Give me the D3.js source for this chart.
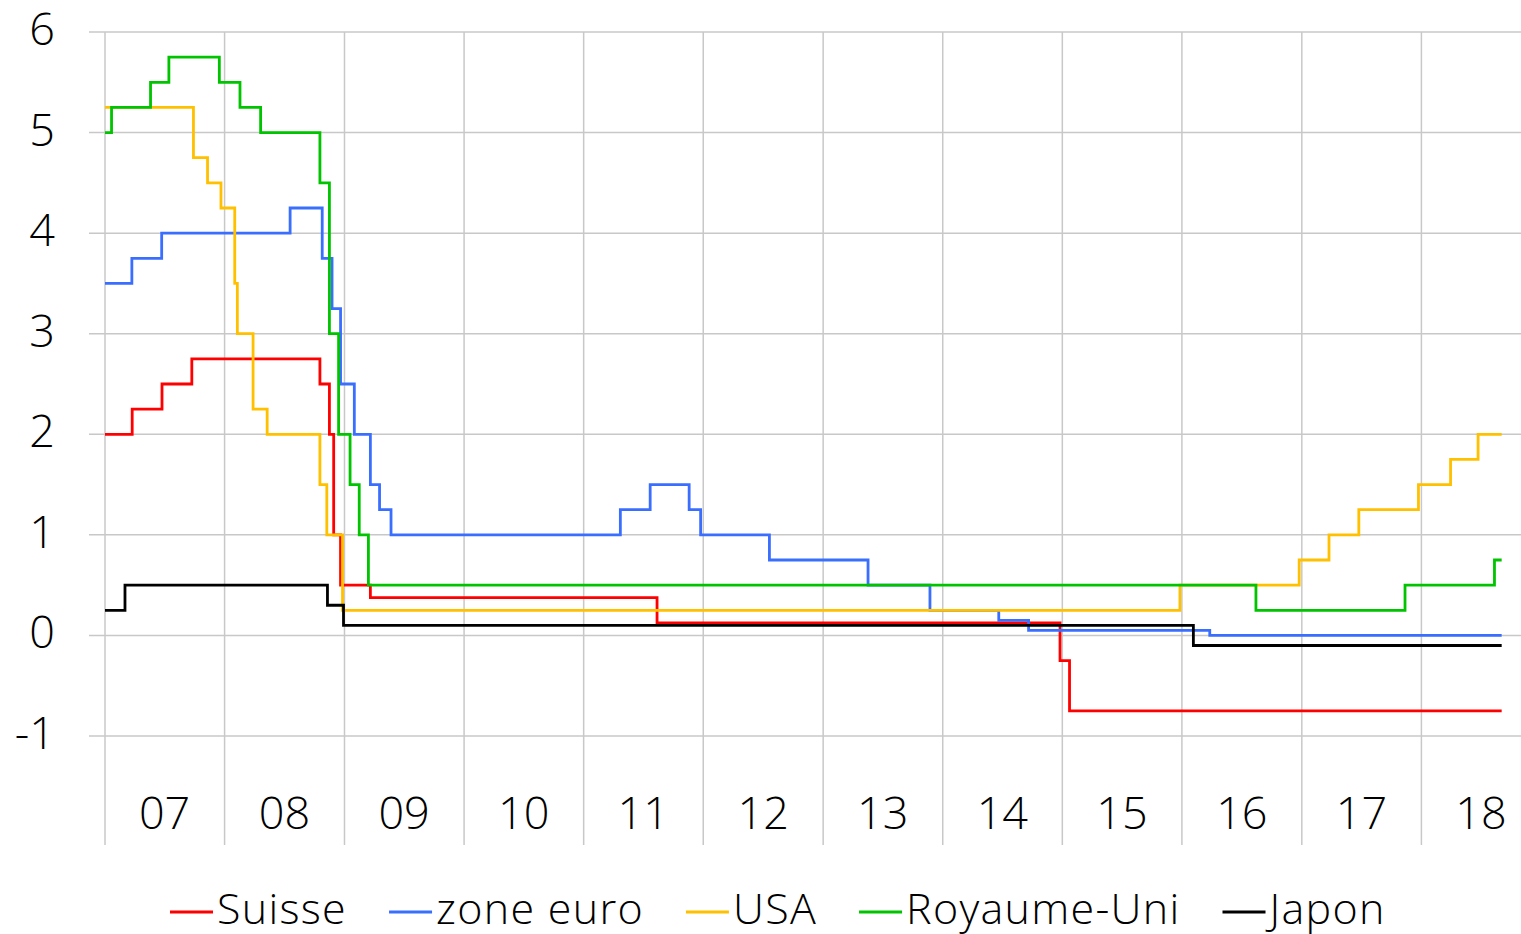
<!DOCTYPE html>
<html>
<head>
<meta charset="utf-8">
<script src="https://cdn.jsdelivr.net/npm/d3@7"></script>
<style>
  body { margin: 0; background: #fff; }
  svg text { font-family: "Open Sans", sans-serif; font-weight: 300; fill: #000; }
</style>
</head>
<body>
<div id="chart"></div>
<script>
// taux directeurs, [date de changement, taux en %]
var suisse = [
  ["2007-01-01", 2.0], ["2007-03-25", 2.25], ["2007-06-24", 2.5], ["2007-09-23", 2.75],
  ["2008-10-18", 2.5], ["2008-11-16", 2.0], ["2008-11-29", 1.0], ["2008-12-20", 0.5],
  ["2009-03-21", 0.375], ["2011-08-13", 0.125], ["2014-12-25", -0.25], ["2015-01-23", -0.75],
  ["2018-09-03", -0.75]
];
var zoneEuro = [
  ["2007-01-01", 3.5], ["2007-03-24", 3.75], ["2007-06-23", 4.0], ["2008-07-19", 4.25],
  ["2008-10-25", 3.75], ["2008-11-24", 3.25], ["2008-12-20", 2.5], ["2009-01-31", 2.0],
  ["2009-03-21", 1.5], ["2009-04-18", 1.25], ["2009-05-23", 1.0], ["2011-04-23", 1.25],
  ["2011-07-23", 1.5], ["2011-11-19", 1.25], ["2011-12-24", 1.0], ["2012-07-21", 0.75],
  ["2013-05-18", 0.5], ["2013-11-23", 0.25], ["2014-06-21", 0.15], ["2014-09-20", 0.05],
  ["2016-03-26", 0.0], ["2018-09-03", 0.0]
];
var usa = [
  ["2007-01-01", 5.25], ["2007-09-28", 4.75], ["2007-11-10", 4.5], ["2007-12-21", 4.25],
  ["2008-02-01", 3.5], ["2008-02-09", 3.0], ["2008-03-28", 2.25], ["2008-05-10", 2.0],
  ["2008-10-18", 1.5], ["2008-11-08", 1.0], ["2008-12-26", 0.25], ["2015-12-26", 0.5],
  ["2016-12-24", 0.75], ["2017-03-25", 1.0], ["2017-06-24", 1.25], ["2017-12-23", 1.5],
  ["2018-03-31", 1.75], ["2018-06-23", 2.0], ["2018-09-03", 2.0]
];
var royaumeUni = [
  ["2007-01-01", 5.0], ["2007-01-21", 5.25], ["2007-05-20", 5.5], ["2007-07-15", 5.75],
  ["2007-12-16", 5.5], ["2008-02-17", 5.25], ["2008-04-20", 5.0], ["2008-10-18", 4.5],
  ["2008-11-16", 3.0], ["2008-12-14", 2.0], ["2009-01-18", 1.5], ["2009-02-15", 1.0],
  ["2009-03-15", 0.5], ["2016-08-14", 0.25], ["2017-11-12", 0.5], ["2018-08-12", 0.75],
  ["2018-09-03", 0.75]
];
var japon = [
  ["2007-01-01", 0.25], ["2007-03-03", 0.5], ["2008-11-10", 0.3], ["2008-12-29", 0.1],
  ["2016-02-05", -0.1], ["2018-09-03", -0.1]
];

var seriesNames  = ["Suisse", "zone euro", "USA", "Royaume-Uni", "Japon"];
var seriesColors = ["#ff0000", "#3a6eff", "#ffc000", "#00c400", "#000000"];
var yTicks = [-1, 0, 1, 2, 3, 4, 5, 6];
var years  = [2007, 2008, 2009, 2010, 2011, 2012, 2013, 2014, 2015, 2016, 2017, 2018];
var yearLabels = ["07", "08", "09", "10", "11", "12", "13", "14", "15", "16", "17", "18"];

var W = 1521, H = 934;
var parse = d3.timeParse("%Y-%m-%d");

var svg = d3.select("#chart").append("svg")
  .attr("width", W)
  .attr("height", H);

var scalex = d3.scaleTime()
  .domain([parse("2007-01-01"), parse("2018-11-01")])
  .range([105, 1521]);
var scaley = d3.scaleLinear().domain([-1, 6]).range([736, 32]);

var gridTop = 32, gridBottom = 845, gridLeft = 89;

// quadrillage horizontal
svg.append("g").selectAll("line")
  .data(yTicks)
  .enter()
  .append("line")
  .attr("x1", gridLeft)
  .attr("x2", W)
  .attr("y1", function(d) { return scaley(d); })
  .attr("y2", function(d) { return scaley(d); })
  .attr("stroke", "#c8c8c8")
  .attr("stroke-width", 1.5);

// quadrillage vertical (debut de chaque annee)
svg.append("g").selectAll("line")
  .data(years)
  .enter()
  .append("line")
  .attr("x1", function(d) { return scalex(new Date(d, 0, 1)); })
  .attr("x2", function(d) { return scalex(new Date(d, 0, 1)); })
  .attr("y1", gridTop)
  .attr("y2", gridBottom)
  .attr("stroke", "#c8c8c8")
  .attr("stroke-width", 1.5);

svg.append("g").selectAll("text")
  .data(yTicks)
  .enter()
  .append("text")
  .attr("x", 55)
  .attr("y", function(d) { return scaley(d) + 13; })
  .attr("text-anchor", "end")
  .style("font-size", "45px")
  .text(function(d) { return d; });

svg.append("g").selectAll("text")
  .data(years)
  .enter()
  .append("text")
  .attr("x", function(d) { return scalex(new Date(d, 6, 2)); })
  .attr("y", 829)
  .attr("text-anchor", "middle")
  .style("font-size", "45px")
  .text(function(d, i) { return yearLabels[i]; });

var allSeries = [suisse, zoneEuro, usa, royaumeUni, japon];

var line = d3.line()
  .x(function(d) { return scalex(parse(d[0])); })
  .y(function(d) { return scaley(d[1]); })
  .curve(d3.curveStepAfter);

svg.append("g").selectAll("path")
  .data(allSeries)
  .enter()
  .append("path")
  .attr("d", line)
  .attr("fill", "none")
  .attr("stroke", function(d, i) { return seriesColors[i]; })
  .attr("stroke-width", 2.8)
  .attr("stroke-linejoin", "miter");

// legende
var legend = svg.append("g");
var lx = 170, ly = 912;
seriesNames.forEach(function(name, i) {
  legend.append("line")
    .attr("x1", lx)
    .attr("x2", lx + 43)
    .attr("y1", ly)
    .attr("y2", ly)
    .attr("stroke", seriesColors[i])
    .attr("stroke-width", 3);
  var t = legend.append("text")
    .attr("x", lx + 47)
    .attr("y", ly + 12)
    .style("font-size", "43px")
    .style("letter-spacing", "1.3px")
    .text(name);
  lx += 47 + t.node().getComputedTextLength() + 42;
});
</script>
</body>
</html>
